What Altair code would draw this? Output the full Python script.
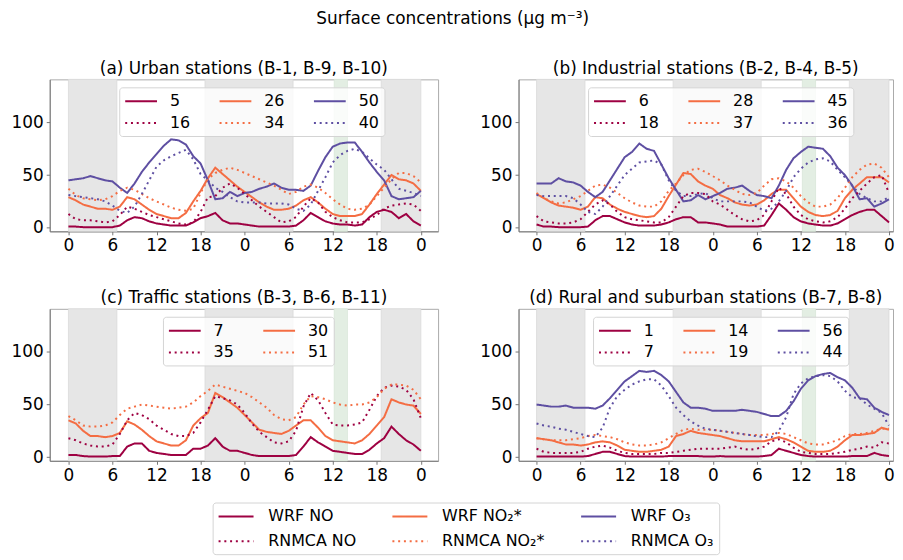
import altair as alt
import pandas as pd

hours = list(range(49))
tick_hours = [0, 6, 12, 18, 24, 30, 36, 42, 48]

night_start = [0, 18.6, 42.6]
night_end = [6.6, 30.6, 48]
green_start = [36.2]
green_end = [38.0]

# ---------------- (a) Urban ----------------
a_wrf_no = [1, 1, 0.5, 0.5, 0.5, 0.5, 0.5, 2, 7, 10,
            9, 6, 4, 3, 2, 2, 2, 5, 9, 11,
            14, 7, 4, 4, 3, 2, 1, 1, 1, 1,
            1, 2, 7, 14, 10, 6, 4, 3, 3, 2,
            3, 10, 15, 17, 15, 9, 13, 6, 2]
a_obs_no = [13, 8, 7, 7, 6, 5, 6, 12, 20, 18,
            15, 12, 10, 8, 6, 4, 3, 5, 15, 29,
            30, 38, 42, 38, 32, 26, 20, 15, 10, 5,
            6, 10, 20, 28, 24, 15, 10, 7, 5, 5,
            5, 8, 12, 18, 21, 22, 23, 22, 16]
a_wrf_no2 = [29, 26, 22, 20, 18, 18, 17, 20, 29, 27,
             22, 17, 13, 11, 9, 9, 14, 25, 35, 47,
             57, 51, 45, 39, 34, 29, 24, 20, 17, 17,
             18, 21, 26, 29, 24, 18, 13, 11, 11, 11,
             13, 22, 32, 41, 50, 46, 45, 42, 35]
a_obs_no2 = [37, 31, 28, 27, 26, 27, 30, 35, 38, 36,
             32, 28, 25, 22, 19, 17, 16, 18, 33, 46,
             52, 55, 57, 55, 52, 49, 46, 43, 40, 36,
             32, 34, 39, 41, 38, 33, 27, 22, 18, 17,
             18, 22, 30, 38, 46, 52, 52, 49, 43]
a_wrf_o3 = [45, 46, 47, 49, 47, 45, 44, 38, 33, 42,
            53, 62, 70, 78, 84, 83, 79, 68, 61, 45,
            27, 28, 34, 30, 33, 34, 37, 39, 42, 38,
            36, 36, 35, 40, 54, 67, 77, 80, 81, 81,
            72, 62, 53, 45, 30, 27, 28, 29, 35]
a_obs_o3 = [31, 30, 29, 28, 27, 25, 21, 16, 14, 20,
            32, 45, 58, 64, 68, 71, 74, 65, 51, 45,
            38, 34, 29, 25, 24, 24, 24, 23, 23, 23,
            22, 18, 16, 22, 35, 48, 62, 69, 73, 75,
            72, 66, 60, 55, 46, 37, 35, 33, 30]

# ---------------- (b) Industrial ----------------
b_wrf_no = [3, 1, 1, 0.5, 0.5, 0.5, 0.5, 1, 7, 11,
            11, 8, 5, 3, 2, 2, 2, 3, 5, 8,
            10, 10, 5, 5, 4, 3, 1, 1, 1, 1,
            1, 2, 12, 23, 17, 10, 6, 4, 3, 2,
            2, 4, 8, 12, 15, 17, 17, 11, 5]
b_obs_no = [11, 6, 5, 4, 4, 5, 8, 15, 22, 26,
            22, 15, 10, 8, 7, 6, 5, 5, 10, 20,
            30, 33, 33, 32, 25, 22, 17, 12, 8, 6,
            7, 12, 25, 38, 32, 20, 12, 8, 6, 5,
            6, 10, 18, 28, 35, 42, 48, 50, 33]
b_wrf_no2 = [32, 28, 24, 21, 20, 19, 17, 20, 29, 28,
             22, 18, 15, 13, 11, 10, 11, 18, 30, 41,
             52, 51, 44, 40, 37, 31, 28, 24, 22, 21,
             22, 26, 32, 36, 36, 28, 20, 15, 12, 11,
             12, 16, 28, 36, 42, 48, 48, 48, 43]
b_obs_no2 = [33, 28, 25, 23, 24, 27, 30, 35, 40, 41,
             38, 33, 28, 24, 21, 20, 20, 25, 35, 42,
             50, 55, 56, 53, 49, 45, 40, 36, 32, 31,
             33, 40, 46, 47, 44, 38, 30, 24, 20, 20,
             22, 28, 38, 48, 55, 60, 61, 57, 48]
b_wrf_o3 = [42, 42, 42, 47, 44, 43, 40, 34, 29, 34,
            45, 56, 67, 72, 80, 75, 73, 60, 47, 36,
            25, 26, 31, 27, 30, 33, 37, 38, 40, 35,
            31, 30, 28, 40, 55, 66, 72, 77, 76, 75,
            68, 57, 50, 40, 27, 28, 20, 23, 27]
b_obs_o3 = [31, 30, 30, 30, 30, 28, 22, 15, 13, 20,
            30, 40, 50, 56, 62, 63, 64, 60, 45, 35,
            30, 30, 32, 33, 28, 25, 25, 25, 25, 24,
            20, 16, 18, 25, 35, 48, 56, 62, 65, 66,
            63, 55, 48, 40, 32, 28, 25, 25, 29]

# ---------------- (c) Traffic ----------------
c_wrf_no = [2, 2, 1, 0.5, 0.5, 0.5, 1, 1, 10, 13,
            13, 6, 4, 3, 2, 2, 2, 8, 8, 11,
            18, 10, 6, 6, 4, 2, 1, 1, 1, 1,
            1, 2, 10, 19, 14, 10, 6, 5, 4, 3,
            3, 7, 13, 18, 29, 22, 16, 12, 6]
c_obs_no = [18, 16, 13, 11, 10, 10, 12, 22, 35, 42,
            40, 36, 30, 26, 22, 20, 20, 23, 33, 45,
            58, 56, 54, 50, 42, 32, 24, 19, 14, 13,
            15, 25, 48, 61, 54, 42, 31, 30, 30, 31,
            33, 45, 58, 66, 68, 67, 64, 55, 37]
c_wrf_no2 = [35, 32, 25, 20, 20, 19, 20, 23, 34, 31,
             26, 20, 15, 13, 11, 11, 16, 30, 37, 42,
             61, 57, 52, 47, 40, 33, 26, 24, 23, 22,
             25, 30, 35, 35, 28, 20, 16, 15, 14, 13,
             16, 22, 30, 38, 55, 52, 50, 49, 41]
c_obs_no2 = [39, 35, 30, 29, 29, 30, 33, 40, 46, 48,
             50, 49, 48, 47, 46, 47, 48, 52, 58, 63,
             69, 67, 65, 63, 61, 57, 52, 47, 40, 36,
             35, 38, 50, 58, 57, 55, 52, 50, 49, 50,
             50, 52, 57, 65, 69, 69, 68, 64, 55]

# ---------------- (d) Rural and suburban ----------------
d_wrf_no = [0.5, 0.5, 0.5, 0.5, 0.5, 0.5, 0.5, 1, 3, 5,
            5, 3, 1, 0.5, 0.5, 0.5, 0.5, 0.5, 1, 1,
            1, 1, 1, 0.5, 0.5, 1, 0.5, 0.5, 0.5, 0.5,
            0.5, 1, 2, 8, 6, 4, 2, 1, 0.5, 0.5,
            0.5, 0.5, 0.5, 1, 1, 1, 4, 2, 1]
d_obs_no = [8, 5, 4, 4, 4, 4, 5, 8, 10, 11,
            9, 6, 4, 3, 3, 3, 3, 4, 4, 5,
            6, 7, 8, 8, 8, 8, 9, 10, 8, 7,
            8, 10, 15, 17, 14, 9, 5, 4, 3, 3,
            3, 4, 5, 7, 8, 10, 9, 14, 13]
d_wrf_no2 = [18, 17, 16, 14, 12, 12, 11, 12, 14, 15,
             14, 11, 7, 6, 5, 5, 6, 7, 10, 20,
             22, 25, 23, 22, 21, 20, 18, 16, 15, 15,
             15, 15, 17, 19, 17, 14, 10, 6, 5, 5,
             6, 10, 16, 21, 21, 22, 23, 28, 26]
d_obs_no2 = [18, 17, 16, 16, 16, 17, 18, 20, 21, 20,
             19, 17, 14, 12, 11, 11, 12, 14, 18, 22,
             26, 27, 26, 26, 26, 25, 24, 23, 22, 21,
             21, 21, 22, 23, 22, 19, 16, 13, 12, 12,
             14, 16, 20, 22, 22, 23, 25, 27, 27]
d_wrf_o3 = [50, 49, 48, 48, 49, 47, 47, 47, 46, 49,
            56, 64, 72, 77, 82, 81, 82, 78, 72, 62,
            52, 47, 47, 46, 44, 44, 44, 44, 45, 44,
            43, 41, 39, 39, 44, 53, 65, 73, 77, 79,
            80, 76, 73, 66, 56, 55, 47, 43, 40]
d_obs_o3 = [32, 30, 29, 27, 26, 24, 22, 20, 19, 28,
            47, 58, 64, 69, 72, 74, 74, 68, 58, 47,
            40, 34, 30, 27, 26, 25, 24, 23, 22, 21,
            20, 19, 19, 25, 38, 60, 70, 75, 77, 78,
            77, 72, 63, 57, 56, 50, 46, 42, 30]

# legend labels (mean values shown in each panel)
a_means = {"WRF NO": "5", "RNMCA NO": "16", "WRF NO2": "26", "RNMCA NO2": "34", "WRF O3": "50", "RNMCA O3": "40"}
b_means = {"WRF NO": "6", "RNMCA NO": "18", "WRF NO2": "28", "RNMCA NO2": "37", "WRF O3": "45", "RNMCA O3": "36"}
c_means = {"WRF NO": "7", "RNMCA NO": "35", "WRF NO2": "30", "RNMCA NO2": "51"}
d_means = {"WRF NO": "1", "RNMCA NO": "7", "WRF NO2": "14", "RNMCA NO2": "19", "WRF O3": "56", "RNMCA O3": "44"}

# column-major order (legend grid fills columns first)
SERIES = ["WRF NO", "RNMCA NO", "WRF NO2", "RNMCA NO2", "WRF O3", "RNMCA O3"]
SERIES_LABELS = {"WRF NO": "WRF NO", "WRF NO2": "WRF NO\u2082*", "WRF O3": "WRF O\u2083",
                 "RNMCA NO": "RNMCA NO", "RNMCA NO2": "RNMCA NO\u2082*", "RNMCA O3": "RNMCA O\u2083"}
SPECIES_COLOR = {"NO": "#9e0142", "NO2": "#f46d43", "O3": "#5e4fa2"}
SOLID = [1, 0]
DOT = [2, 3.8]
FONT = "DejaVu Sans"


def color_of(s):
    return SPECIES_COLOR[s.split(" ")[1]]


def dash_of(s):
    return SOLID if s.startswith("WRF") else DOT


def expr_map(d):
    return "{" + ",".join("'%s':'%s'" % (k, v) for k, v in d.items()) + "}[datum.label]"


def panel(title, series, means, width, xdom, legend_x, cols):
    rows = []
    for key, vals in series.items():
        for h, v in zip(hours, vals):
            rows.append({"hour": h, "value": v, "series": key})
    df = pd.DataFrame(rows)
    domain = [s for s in SERIES if s in series]
    xscale = alt.Scale(domain=xdom, nice=False, zero=False)
    xaxis = alt.Axis(values=tick_hours, labelExpr="datum.value % 24", title=None, grid=False)
    yscale = alt.Scale(domain=[-3.5, 141], nice=False, zero=False)
    yaxis = alt.Axis(values=[0, 50, 100], title=None, grid=False)

    night = alt.Chart(pd.DataFrame({"start": night_start, "end": night_end})).mark_rect(
        fill="#e6e6e6", stroke="#dadada", strokeWidth=0.8
    ).encode(x=alt.X("start:Q", scale=xscale, axis=xaxis), x2="end:Q")
    green = alt.Chart(pd.DataFrame({"start": green_start, "end": green_end})).mark_rect(
        fill="#e3eee3", stroke="#d8e6d8", strokeWidth=0.8
    ).encode(x=alt.X("start:Q", scale=xscale, axis=xaxis), x2="end:Q")

    leg = alt.Legend(orient="none", legendX=legend_x, legendY=8, columns=cols, title=None,
                     labelExpr=expr_map(means), symbolType="M-1,0H3", symbolSize=256,
                     symbolStrokeWidth=2, labelFontSize=16, labelFont=FONT, labelColor="black",
                     labelOffset=28, columnPadding=25, rowPadding=5, padding=5,
                     fillColor="rgba(255,255,255,0.8)", strokeColor="#d4d4d4", cornerRadius=3)
    lines = alt.Chart(df).mark_line(strokeWidth=2).encode(
        x=alt.X("hour:Q", scale=xscale, axis=xaxis),
        y=alt.Y("value:Q", scale=yscale, axis=yaxis),
        color=alt.Color("series:N", scale=alt.Scale(domain=domain, range=[color_of(s) for s in domain]), legend=leg),
        strokeDash=alt.StrokeDash("series:N", scale=alt.Scale(domain=domain, range=[dash_of(s) for s in domain]), legend=leg),
    )
    return alt.layer(night, green, lines).properties(
        width=width, height=153,
        title=alt.TitleParams(title, fontSize=17, font=FONT, fontWeight="normal", color="black", offset=1),
    )


LEFT_W, LEFT_DOM = 391, [-2.55, 50.35]
RIGHT_W, RIGHT_DOM = 377, [-2.45, 48.55]

pa = panel("(a) Urban stations (B-1, B-9, B-10)",
           {"WRF NO": a_wrf_no, "WRF NO2": a_wrf_no2, "WRF O3": a_wrf_o3,
            "RNMCA NO": a_obs_no, "RNMCA NO2": a_obs_no2, "RNMCA O3": a_obs_o3},
           a_means, LEFT_W, LEFT_DOM, 70, 3)
pb = panel("(b) Industrial stations (B-2, B-4, B-5)",
           {"WRF NO": b_wrf_no, "WRF NO2": b_wrf_no2, "WRF O3": b_wrf_o3,
            "RNMCA NO": b_obs_no, "RNMCA NO2": b_obs_no2, "RNMCA O3": b_obs_o3},
           b_means, RIGHT_W, RIGHT_DOM, 70, 3)
pc = panel("(c) Traffic stations (B-3, B-6, B-11)",
           {"WRF NO": c_wrf_no, "WRF NO2": c_wrf_no2,
            "RNMCA NO": c_obs_no, "RNMCA NO2": c_obs_no2},
           c_means, LEFT_W, LEFT_DOM, 114, 2)
pd_ = panel("(d) Rural and suburban stations (B-7, B-8)",
            {"WRF NO": d_wrf_no, "WRF NO2": d_wrf_no2, "WRF O3": d_wrf_o3,
             "RNMCA NO": d_obs_no, "RNMCA NO2": d_obs_no2, "RNMCA O3": d_obs_o3},
            d_means, RIGHT_W, RIGHT_DOM, 75, 3)


def ind(ch):
    return ch.resolve_scale(color="independent", strokeDash="independent", x="independent", y="independent").resolve_legend(
        color="independent", strokeDash="independent")


row1 = ind(alt.hconcat(pa, pb, spacing=40))
row2 = ind(alt.hconcat(pc, pd_, spacing=40))
grid = ind(alt.vconcat(row1, row2, spacing=35))

bottom_leg = alt.Legend(orient="none", legendX=164, legendY=0, columns=3, title=None,
                        labelExpr=expr_map(SERIES_LABELS), symbolType="M-1,0H3.4", symbolSize=256,
                        symbolStrokeWidth=2, labelFontSize=16, labelFont=FONT, labelColor="black",
                        labelOffset=33, columnPadding=32, rowPadding=8, padding=5,
                        fillColor="white", strokeColor="#d4d4d4", cornerRadius=3)
legend_chart = alt.Chart(pd.DataFrame({"series": SERIES})).mark_line(strokeWidth=2).encode(
    x=alt.value(0), y=alt.value(0),
    color=alt.Color("series:N", scale=alt.Scale(domain=SERIES, range=[color_of(s) for s in SERIES]), legend=bottom_leg),
    strokeDash=alt.StrokeDash("series:N", scale=alt.Scale(domain=SERIES, range=[dash_of(s) for s in SERIES]), legend=bottom_leg),
).properties(width=1, height=1, view=alt.ViewBackground(stroke="transparent"))

chart = ind(alt.vconcat(grid, legend_chart, spacing=14)).properties(
    title=alt.TitleParams("Surface concentrations (\u03bcg m\u207b\u00b3)", fontSize=17, font=FONT,
                          fontWeight="normal", color="black", anchor="middle", offset=32),
    padding={"left": 2, "top": 0, "right": 0, "bottom": 0},
).configure_view(stroke="#aaaaaa", strokeWidth=1).configure_axis(
    labelFont=FONT, labelFontSize=17, labelColor="black", domainColor="#777777", tickColor="#777777",
    tickSize=3.5, labelPadding=3, domainWidth=1,
).configure_title(font=FONT, fontWeight="normal", color="black")

chart.save("out.html", embed_options={"renderer": "svg", "actions": False})
